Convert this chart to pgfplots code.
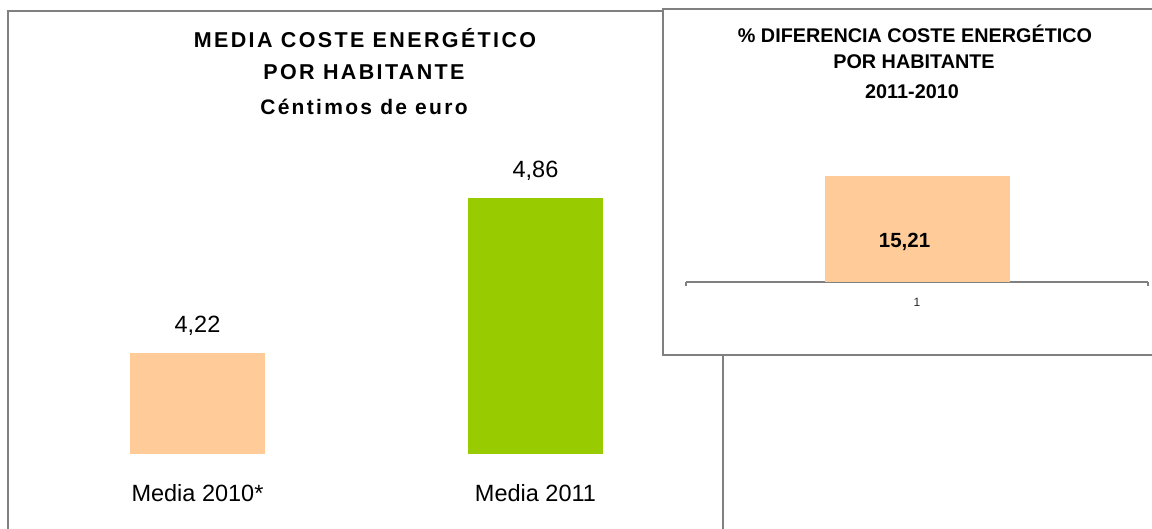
\documentclass[border=0pt]{standalone}
\usepackage{fontspec}
\setmainfont{Liberation Sans}
\newfontfamily\spacedfont[LetterSpace=11]{Liberation Sans}
\usepackage{pgfplots}
\pgfplotsset{compat=1.18}
\definecolor{peach}{HTML}{FFCC99}
\definecolor{lime}{HTML}{99CC00}
\definecolor{framegray}{HTML}{808080}
\begin{document}
\begin{tikzpicture}
\path[use as bounding box] (0,0) rectangle (1152bp,529bp);
\clip (0,0) rectangle (1152bp,529bp);
% left panel frame
\draw[framegray, line width=1.5bp] (8bp,-10bp) rectangle (723bp,518bp);
\node[anchor=base, inner sep=0pt, font=\spacedfont\bfseries\fontsize{21.5bp}{24bp}\selectfont] at (365bp,481.3bp) {MEDIA COSTE ENERGÉTICO};
\node[anchor=base, inner sep=0pt, font=\spacedfont\bfseries\fontsize{21.5bp}{24bp}\selectfont] at (364bp,449.3bp) {POR HABITANTE};
\node[anchor=base, inner sep=0pt, font=\spacedfont\bfseries\fontsize{21bp}{24bp}\selectfont] at (364bp,414.7bp) {Céntimos de euro};

\begin{axis}[at={(28.5bp,75.3bp)}, anchor=south west, scale only axis,
  width=676bp, height=289bp,
  xmin=-0.5, xmax=1.5, ymin=3.8, ymax=5.0,
  ybar, bar width=135bp, bar shift=0pt,
  axis y line=none, axis x line*=bottom, x axis line style={draw=none},
  xtick={0,1}, xticklabels={Media 2010*, Media 2011},
  xtick style={draw=none},
  xticklabel style={anchor=base, yshift=-43.6bp, inner sep=0pt, font=\fontsize{23.5bp}{28bp}\selectfont},
  nodes near coords,
  every node near coord/.append style={anchor=base, yshift=20.5bp, inner sep=0pt, font=\fontsize{23.5bp}{28bp}\selectfont, text=black},
  clip=false,
  /pgf/number format/.cd, use comma, fixed, fixed zerofill, precision=2, assume math mode=true]
\addplot[fill=peach, draw=none] coordinates {(0,4.22)};
\addplot[fill=lime, draw=none] coordinates {(1,4.86)};
\end{axis}

% inset panel
\fill[white] (663bp,174bp) rectangle (1165bp,520bp);
\draw[framegray, line width=1.5bp] (663bp,174bp) rectangle (1165bp,520bp);
\node[anchor=base, inner sep=0pt, font=\bfseries\fontsize{19.8bp}{24bp}\selectfont] at (915bp,486.7bp) {\% DIFERENCIA COSTE ENERGÉTICO};
\node[anchor=base, inner sep=0pt, font=\bfseries\fontsize{19.8bp}{24bp}\selectfont] at (914bp,460bp) {POR HABITANTE};
\node[anchor=base, inner sep=0pt, font=\bfseries\fontsize{19.8bp}{24bp}\selectfont] at (912bp,430bp) {2011-2010};

\begin{axis}[at={(686bp,247bp)}, anchor=south west, scale only axis,
  width=462bp, height=139.4bp,
  xmin=0.5, xmax=1.5, ymin=0, ymax=20,
  ybar, bar width=185bp, bar shift=0pt,
  axis y line=none, axis x line*=bottom,
  x axis line style={framegray, line width=1.5bp, -},
  xtick={1}, xticklabels={1}, major tick length=0pt,
  xticklabel style={anchor=base, yshift=-24.7bp, inner sep=0pt, font=\fontsize{12bp}{14bp}\selectfont, text=black!85},
  extra x ticks={0.5,1.5}, extra x tick labels={},
  extra x tick style={major tick length=4bp, tick align=outside, tick style={framegray, line width=1.5bp}},
  nodes near coords,
  every node near coord/.append style={anchor=base, yshift=-72bp, xshift=-12.5bp, inner sep=0pt, font=\bfseries\fontsize{20.5bp}{24bp}\selectfont, text=black},
  clip=false,
  /pgf/number format/.cd, use comma, fixed, fixed zerofill, precision=2, assume math mode=true]
\addplot[fill=peach, draw=none] coordinates {(1,15.21)};
\end{axis}
\end{tikzpicture}
\end{document}
